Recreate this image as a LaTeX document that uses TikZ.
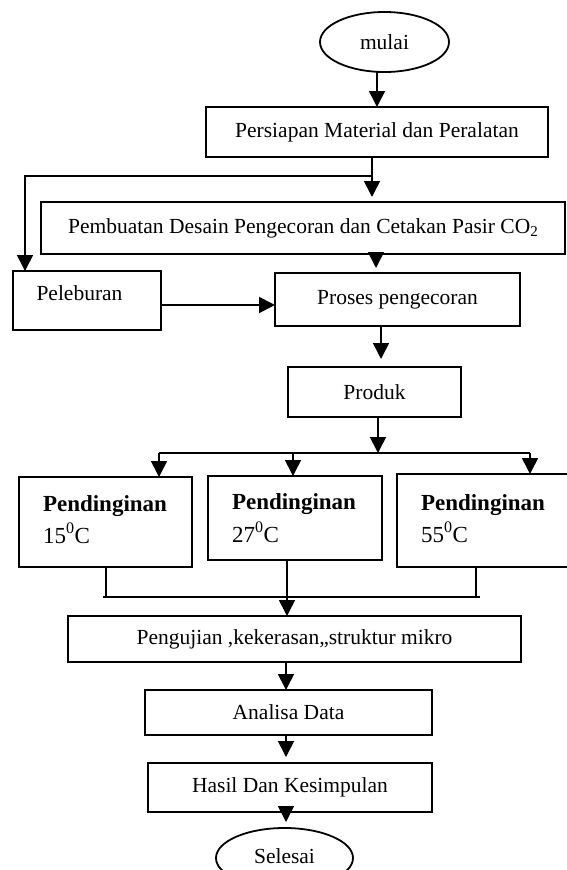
\documentclass[tikz,border=0pt]{standalone}
\usepackage{fontspec}
\setmainfont{Liberation Serif}
\usetikzlibrary{arrows.meta,shapes.geometric}
\newcommand\fsA{\fontsize{21.5}{24}\selectfont}
\newcommand\fsB{\fontsize{23}{26}\selectfont}
\begin{document}
\begin{tikzpicture}[x=1pt,y=-1pt,
  box/.style={draw, line width=1.8pt, rectangle, inner sep=0pt, outer sep=0pt, font=\fsA},
  ell/.style={draw, line width=1.8pt, ellipse, inner sep=0pt, outer sep=0pt, font=\fsA},
  txt/.style={inner sep=0pt, outer sep=0pt, font=\fsA},
  ptxt/.style={inner sep=0pt, outer sep=0pt, font=\fsB, anchor=base west},
  ln/.style={line width=1.6pt},
  arr/.style={line width=1.6pt, -{Triangle[length=16pt,width=16pt]}}]
\path[fill=white, use as bounding box] (0,0) rectangle (566,870);

% nodes
\node[ell, minimum width=129pt, minimum height=60pt] (mulai) at (384.5,42) {mulai};
\node[box, minimum width=342pt, minimum height=50pt] (persiapan) at (377,132) {Persiapan Material dan Peralatan};
\node[box, minimum width=524pt, minimum height=52pt] (pembuatan) at (303,228) {Pembuatan Desain Pengecoran dan Cetakan Pasir CO\raisebox{-0.3ex}{\fontsize{15}{15}\selectfont 2}};
\node[box, minimum width=148pt, minimum height=59pt] (peleburan) at (87,300.5) {};
\node[txt] (peleburanT) at (79.5,293) {Peleburan};
\node[box, minimum width=245pt, minimum height=53pt] (proses) at (397.5,299.5) {Proses pengecoran};
\node[box, minimum width=173pt, minimum height=50pt] (produk) at (374.5,392) {Produk};
\node[box, minimum width=173pt, minimum height=90pt] (pend1) at (105.5,522) {};
\node[box, minimum width=174pt, minimum height=84pt] (pend2) at (295,518) {};
\node[box, minimum width=203pt, minimum height=93pt] (pend3) at (498.5,520.5) {};
\node[ptxt] (p1a) at (43,511) {\bfseries Pendinginan};
\node[ptxt] (p1b) at (43,543) {15\textsuperscript{0}C};
\node[ptxt] (p2a) at (232,509) {\bfseries Pendinginan};
\node[ptxt] (p2b) at (232,542) {27\textsuperscript{0}C};
\node[ptxt] (p3a) at (421,510) {\bfseries Pendinginan};
\node[ptxt] (p3b) at (421,542) {55\textsuperscript{0}C};
\node[box, minimum width=453pt, minimum height=46pt] (pengujian) at (294.5,639) {Pengujian ,kekerasan,,struktur mikro};
\node[box, minimum width=287pt, minimum height=45pt] (analisa) at (288.5,712.5) {Analisa Data};
\node[box, minimum width=284pt, minimum height=49pt] (hasil) at (290,787.5) {Hasil Dan Kesimpulan};
\node[ell, minimum width=137pt, minimum height=60pt] (selesai) at (284.5,858) {\raisebox{3pt}{Selesai}};

% helper coordinates
\coordinate (j1) at (372,176);
\coordinate (j2) at (25,176);
\coordinate (k1) at (376,0);
\coordinate (k2) at (0,305);
\coordinate (k3) at (381,0);
\coordinate (s0) at (378,453);
\coordinate (s1) at (159,453);
\coordinate (s2) at (293,453);
\coordinate (s3) at (530,453);
\coordinate (m1) at (106,597);
\coordinate (m3) at (476,597);
\coordinate (mL) at (103,597);
\coordinate (mR) at (480,597);
\coordinate (m2) at (287,0);
\coordinate (n1) at (286,0);

% connectors
\draw[arr] (mulai.south -| persiapan.north) -- (persiapan.north);
\draw[ln] (persiapan.south -| j1) -- (j1);
\draw[arr, shorten >=5pt] (j1) -- (pembuatan.north -| j1);
\draw[arr] (j1) -- (j2) -- (j2 |- peleburan.north);
\draw[arr, shorten >=5pt] (pembuatan.south -| k1) -- (proses.north -| k1);
\draw[arr] (peleburan.east |- k2) -- (proses.west |- k2);
\draw[arr, shorten >=8pt] (proses.south -| k3) -- (produk.north -| k3);
\draw[arr] (produk.south -| s0) -- (s0);
\draw[ln] (s1) -- (s3);
\draw[arr] (s1) -- (pend1.north -| s1);
\draw[arr] (s2) -- (pend2.north -| s2);
\draw[arr] (s3) -- (pend3.north -| s3);
\draw[ln] (pend1.south -| m1) -- (m1);
\draw[ln] (pend3.south -| m3) -- (m3);
\draw[ln] (mL) -- (mR);
\draw[arr] (pend2.south -| m2) -- (pengujian.north -| m2);
\draw[arr] (pengujian.south -| n1) -- (analisa.north -| n1);
\draw[arr, shorten >=6pt] (analisa.south -| n1) -- (hasil.north -| n1);
\draw[arr, shorten >=6pt] (hasil.south -| n1) -- (selesai.north -| n1);
\end{tikzpicture}
\end{document}
